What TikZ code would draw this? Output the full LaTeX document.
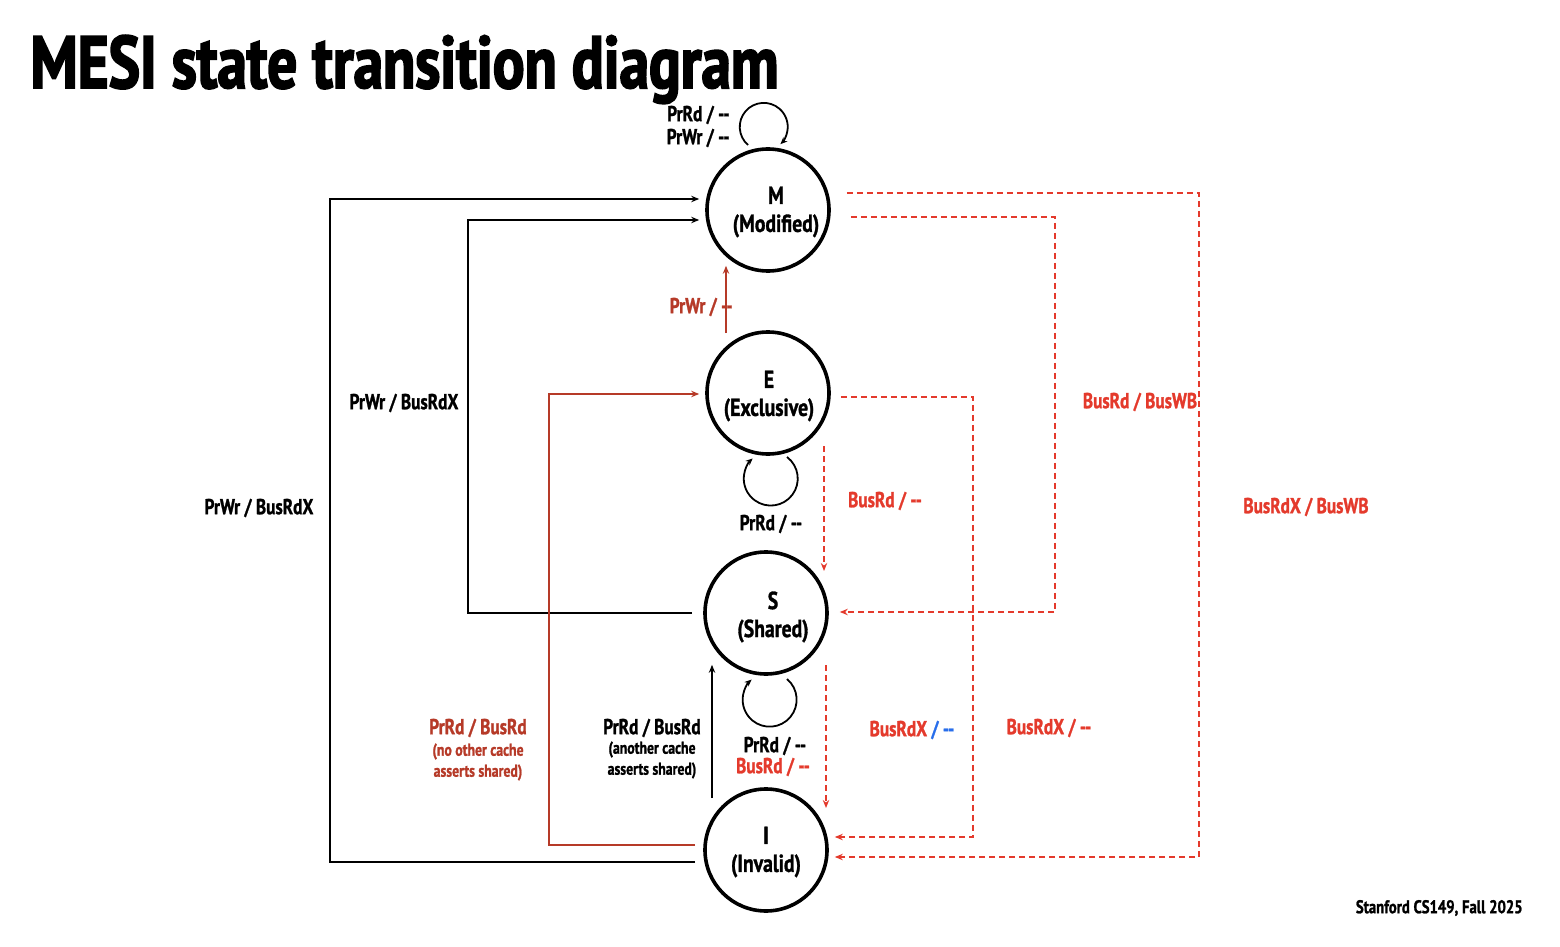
\documentclass[tikz,border=0pt]{standalone}
\usepackage{fontspec}
\setmainfont{PT Sans Bold}[FakeStretch=0.8,FakeBold=1.2]
\newfontfamily\titlefont{PT Sans Bold}[FakeStretch=0.8,FakeBold=2.5]
\usetikzlibrary{arrows.meta}
\definecolor{bred}{RGB}{228,58,44}
\definecolor{dred}{RGB}{182,58,40}
\definecolor{bblue}{RGB}{40,110,235}
\newcommand{\dd}{{-}{-}}
\tikzset{
  x=0.5pt,y=-0.5pt,
  statec/.style={circle,draw=black,line width=1.8pt,minimum size=61pt,inner sep=0pt},
  stxt/.style={align=center,font=\fontsize{12.3}{14}\selectfont,inner sep=0pt},
  lbl/.style={font=\fontsize{10.8}{11.5}\selectfont,inner sep=0pt},
  small/.style={font=\fontsize{8.6}{10.5}\selectfont,inner sep=0pt,align=center},
  tip/.style={-{Stealth[length=4pt,width=3.2pt]}},
  blk/.style={draw=black,line width=1pt,tip},
  drd/.style={draw=dred,line width=1pt,tip},
  rdash/.style={draw=bred,line width=1pt,dash pattern=on 3pt off 2pt,tip},
  loopl/.style={draw=black,line width=0.9pt,-{Stealth[length=3.5pt,width=3pt]}}
}
\begin{document}
\begin{tikzpicture}
\useasboundingbox (0,0) rectangle (1560,947);
\fill[white] (0,0) rectangle (1560,947);

\node[anchor=base west,inner sep=0pt,font=\fontsize{37}{40}\titlefont] (title) at (30,88) {MESI state transition diagram};

% states
\node[statec] (M) at (768,210) {};
\node[statec] (E) at (768,393) {};
\node[statec] (S) at (766,613) {};
\node[statec] (I) at (766,850) {};
\node[stxt] (Mt) at (776,212) {M\\(Modified)};
\node[stxt] (Et) at (769,396) {E\\(Exclusive)};
\node[stxt] (St) at (773,617) {S\\(Shared)};
\node[stxt] (It) at (766,852) {I\\(Invalid)};

% black transitions
\draw[blk] ([shift={(-8,12)}]I.west) -| (330,199) -- ([shift={(-6,-11)}]M.west);
\draw[blk] ([shift={(-11,0)}]S.west) -| (468,220) -- ([shift={(-6,10)}]M.west);
\draw[drd] ([shift={(-8,-5)}]I.west) -| (549,394) -- ([shift={(-6,1)}]E.west);
\draw[blk] ([shift={(-54,11)}]I.north) -- ([shift={(-54,-11)}]S.south);
\draw[drd] ([shift={(-42,3)}]E.north) -- ([shift={(-42,-7)}]M.south);

% self loops
\draw[loopl] ([shift={(-20,-65)}]M.center) arc[start angle=229,end angle=-46,radius=12pt];
\draw[loopl] ([shift={(19,64)}]E.center) arc[start angle=53,end angle=-228,radius=13.5pt];
\draw[loopl] ([shift={(21,66)}]S.center) arc[start angle=50,end angle=-228,radius=13.5pt];

% red dashed bus transitions
\draw[rdash] ([shift={(56,53)}]E.center) -- ([shift={(58,-42)}]S.center);
\draw[rdash] ([shift={(10,4)}]E.east) -| (973,837) -- ([shift={(6,-13)}]I.east);
\draw[rdash] ([shift={(60,52)}]S.center) -- ([shift={(60,-42)}]I.center);
\draw[rdash] ([shift={(20,7)}]M.east) -| (1055,612) -- ([shift={(11,-1)}]S.east);
\draw[rdash] ([shift={(16,-17)}]M.east) -| (1199,857) -- ([shift={(6,7)}]I.east);

% labels
\node[lbl,anchor=east] (lM1) at (730,115) {PrRd / \dd};
\node[lbl,anchor=east] (lM2) at (730,138) {PrWr / \dd};
\node[lbl,anchor=east,text=dred] (lEM) at (733,307) {PrWr / \dd};
\node[lbl] (lE) at (771,524) {PrRd / \dd};
\node[lbl] (lS1) at (775,746) {PrRd / \dd};
\node[lbl,text=bred] (lS2) at (773,767) {BusRd / \dd};
\node[lbl] (lSM) at (404,403) {PrWr / BusRdX};
\node[lbl] (lIM) at (259,508) {PrWr / BusRdX};
\node[lbl,text=dred] (lIE) at (478,728) {PrRd / BusRd};
\node[small,text=dred] (lIEs) at (478,762) {(no other cache\\asserts shared)};
\node[lbl] (lIS) at (652,728) {PrRd / BusRd};
\node[small] (lISs) at (652,760) {(another cache\\asserts shared)};
\node[lbl,text=bred] (lES) at (885,501) {BusRd / \dd};
\node[lbl] (lSI) at (912,730) {\textcolor{bred}{BusRdX} \textcolor{bblue}{/ \dd}};
\node[lbl,text=bred] (lEI) at (1049,728) {BusRdX / \dd};
\node[lbl,text=bred] (lMS) at (1140,402) {BusRd / BusWB};
\node[lbl,text=bred] (lMI) at (1306,507) {BusRdX / BusWB};

\node[font=\fontsize{9.2}{10}\selectfont,inner sep=0pt,anchor=east] (foot) at (1523,908) {Stanford CS149, Fall 2025};
\end{tikzpicture}
\end{document}
